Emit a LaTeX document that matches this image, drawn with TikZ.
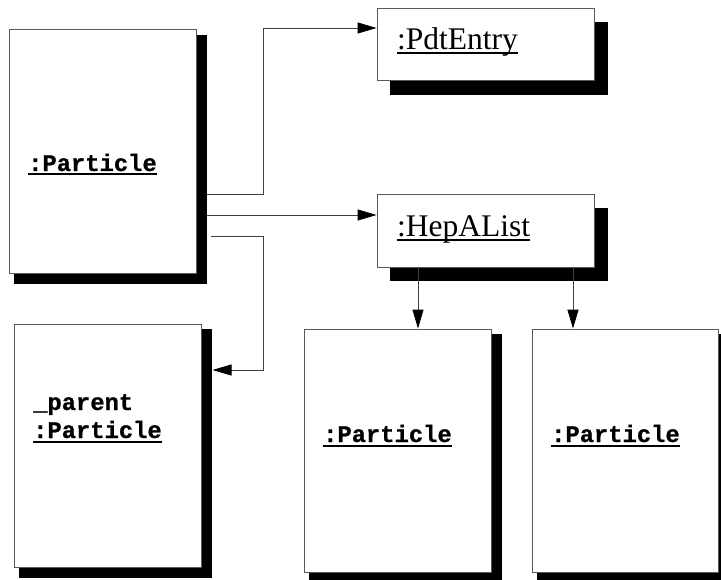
\documentclass[tikz,border=0pt]{standalone}
\usepackage{fontspec}
\usetikzlibrary{arrows.meta}
\newfontfamily\cour{Liberation Mono}[BoldFeatures={FakeBold=0.8}]
\newfontfamily\tms{Liberation Serif}
\begin{document}
\begin{tikzpicture}[x=1pt,y=-1pt,
  objbox/.style={draw=black!65, fill=white, line width=0.8pt, inner sep=0pt},
  ctext/.style={inner sep=0pt, anchor=base west, font=\cour\bfseries\fontsize{23.8}{24}\selectfont},
  stext/.style={inner sep=0pt, anchor=base west, font=\tms\fontsize{31.5}{32}\selectfont},
  conn/.style={draw=black!75, line width=0.9pt},
  arr/.style={conn, -{Triangle[length=19pt,width=11pt,color=black]}}]
\useasboundingbox (0,0) rectangle (721,580);
% shadows
\fill (14,35) rectangle (207,284);
\fill (390,22) rectangle (608,95);
\fill (390,208) rectangle (608,281);
\fill (19,329) rectangle (212,578);
\fill (309,334) rectangle (502,584);
\fill (537,334) rectangle (729,584);
% boxes
\node[objbox, minimum width=187pt, minimum height=244pt] (p1) at (102.5,151) {};
\node[objbox, minimum width=217pt, minimum height=72pt] (pdt) at (485.5,44) {};
\node[objbox, minimum width=217pt, minimum height=73pt] (hep) at (485.5,230.5) {};
\node[objbox, minimum width=187pt, minimum height=243pt] (par) at (107.5,445.5) {};
\node[objbox, minimum width=187pt, minimum height=243pt] (m1) at (397.5,450.5) {};
\node[objbox, minimum width=186pt, minimum height=243pt] (m2) at (625,450.5) {};
% texts
\node[ctext] (t1) at (28,171) {:Particle};
\node[stext] (t2) at (397,50) {:PdtEntry};
\node[stext] (t3) at (397,237) {:HepAList};
\node[ctext] (t4a) at (33,410) {\_parent};
\node[ctext] (t4) at (33,438) {:Particle};
\node[ctext] (t5) at (323,442) {:Particle};
\node[ctext] (t6) at (551,442) {:Particle};
\foreach \t in {t1,t4,t5,t6}
  \draw[line width=2pt] ([yshift=-3.5pt]\t.base west) -- ([yshift=-3.5pt]\t.base east);
\foreach \t in {t2,t3}
  \draw[line width=1.6pt] ([yshift=-3pt]\t.base west) -- ([yshift=-3pt]\t.base east);
% connectors
\coordinate (c1) at (207,194);
\coordinate (c1b) at (263,28);
\draw[arr] (c1) -| (c1b) -- (c1b -| pdt.west);
\coordinate (c2) at (207,215);
\draw[arr] (c2) -- (c2 -| hep.west);
\coordinate (c3) at (211,236);
\coordinate (c3b) at (263,370);
\coordinate (c3e) at (212.5,370);
\draw[arr] (c3) -| (c3b) -- (c3e);
\coordinate (d1) at (418,0);
\coordinate (d2) at (573,0);
\draw[arr] (d1 |- hep.south) -- (d1 |- m1.north);
\draw[arr] (d2 |- hep.south) -- (d2 |- m2.north);
\end{tikzpicture}
\end{document}
